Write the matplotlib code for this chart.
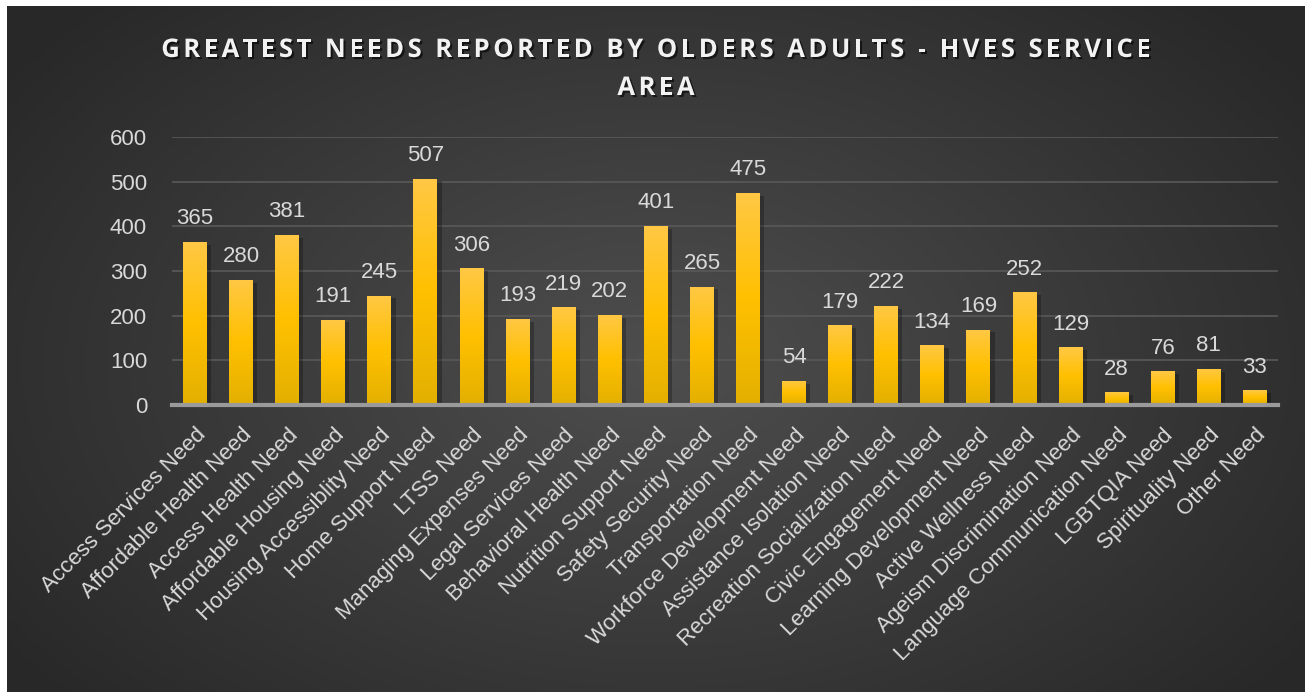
import numpy as np
import matplotlib.pyplot as plt
import matplotlib.patheffects as pe
from matplotlib.colors import LinearSegmentedColormap

# Chart data
categories = [
    "Access Services Need", "Affordable Health Need", "Access Health Need",
    "Affordable Housing Need", "Housing Accessiblity Need", "Home Support Need",
    "LTSS Need", "Managing Expenses Need", "Legal Services Need",
    "Behavioral Health Need", "Nutrition Support Need", "Safety Security Need",
    "Transportation Need", "Workforce Development Need", "Assistance Isolation Need",
    "Recreation Socialization Need", "Civic Engagement Need", "Learning Development Need",
    "Active Wellness Need", "Ageism Discrimination Need", "Language Communication Need",
    "LGBTQIA Need", "Spirituality Need", "Other Need",
]
counts = [365, 280, 381, 191, 245, 507, 306, 193, 219, 202, 401, 265,
          475, 54, 179, 222, 134, 169, 252, 129, 28, 76, 81, 33]
y_ticks = [0, 100, 200, 300, 400, 500, 600]
title_lines = ["GREATEST NEEDS REPORTED BY OLDERS ADULTS - HVES SERVICE", "AREA"]

W, H = 1305, 692
fig = plt.figure(figsize=(W / 100, H / 100), dpi=100, facecolor="white")

# Dark radial background, with a thin white margin top/left
bg = fig.add_axes([7 / W, 0, 1 - 7 / W, 1 - 6 / H])
bg.set_axis_off()
yy, xx = np.mgrid[0:1:300j, 0:1:600j]
r = np.sqrt(((xx - 0.5) / 0.62) ** 2 + ((yy - 0.52) / 0.75) ** 2)
r = np.clip(r, 0, 1)
bg_cmap = LinearSegmentedColormap.from_list("bg", ["#4e4e4e", "#3b3b3b", "#282828"])
bg.imshow(r, cmap=bg_cmap, aspect="auto", extent=[0, 1, 0, 1], vmin=0, vmax=1)
bg.set_xlim(0, 1)
bg.set_ylim(0, 1)

ax = fig.add_axes([172 / W, 1 - 405 / H, (1278 - 172) / W, (405 - 137) / H])
ax.patch.set_alpha(0)
ax.set_zorder(2)

x = np.arange(len(categories))
bars = ax.bar(x, counts, width=0.52, color="#FFC000", zorder=3)

# Vertical gradient inside each bar
bar_cmap = LinearSegmentedColormap.from_list("bar", ["#E3B000", "#FFC000", "#FFC845"])
grad = np.linspace(0, 1, 256).reshape(-1, 1)
for b in bars:
    bx, by, bw, bh = b.get_x(), b.get_y(), b.get_width(), b.get_height()
    im = ax.imshow(grad, cmap=bar_cmap, origin="lower", aspect="auto",
                   extent=[bx, bx + bw, by, by + bh], zorder=3.5)
    im.set_clip_path(b)
    b.set_path_effects([pe.SimplePatchShadow(offset=(3, -2), shadow_rgbFace="black", alpha=0.25),
                        pe.Normal()])

ax.set_xlim(-0.5, len(categories) - 0.5)
ax.set_ylim(0, 600)
ax.set_yticks(y_ticks)
ax.yaxis.grid(True, color="#595959", linewidth=1.2, zorder=0)
ax.set_axisbelow(True)
for s in ["top", "right", "left"]:
    ax.spines[s].set_visible(False)
ax.spines["bottom"].set_color("#9a9a9a")
ax.spines["bottom"].set_linewidth(3)
ax.spines["bottom"].set_zorder(4)

ax.tick_params(axis="y", length=0, pad=18, labelsize=16, labelcolor="#d9d9d9")
ax.tick_params(axis="x", length=0, pad=14)
for lab in ax.get_yticklabels():
    lab.set_fontfamily("Liberation Sans")

ax.set_xticks(x)
ax.set_xticklabels(categories, rotation=45, ha="right", rotation_mode="anchor",
                   fontsize=16, color="#d9d9d9", fontfamily="Liberation Sans")

for b, v in zip(bars, counts):
    ax.annotate(str(v), (b.get_x() + b.get_width() / 2, v), xytext=(0, 9),
                textcoords="offset points", ha="center", va="bottom",
                fontsize=16, color="#d9d9d9", fontfamily="Liberation Sans", zorder=5)

# Title with letter spacing: place each character by its measured width
renderer = fig.canvas.get_renderer()
title_kw = dict(fontsize=18.5, fontweight="bold", fontfamily="Open Sans", color="#f2f2f2")
shadow = [pe.withSimplePatchShadow(offset=(1.5, -1.5), shadow_rgbFace="black", alpha=0.6)]


def text_width(s):
    t = fig.text(0, 0, s, **title_kw)
    w = t.get_window_extent(renderer).width
    t.remove()
    return w


bar_w = text_width("||")
tracking = 3.4  # px between letters
for line, yc in zip(title_lines, [46.5, 84.5]):
    widths = [text_width("|" + ch + "|") - bar_w for ch in line]
    total = sum(widths) + tracking * (len(line) - 1)
    xpos = 656 - total / 2
    for ch, w in zip(line, widths):
        if ch != " ":
            fig.text(xpos / W, 1 - yc / H, ch, ha="left", va="center_baseline",
                     path_effects=shadow, **title_kw)
        xpos += w + tracking

fig.savefig("out.png", dpi=100, facecolor="white")
